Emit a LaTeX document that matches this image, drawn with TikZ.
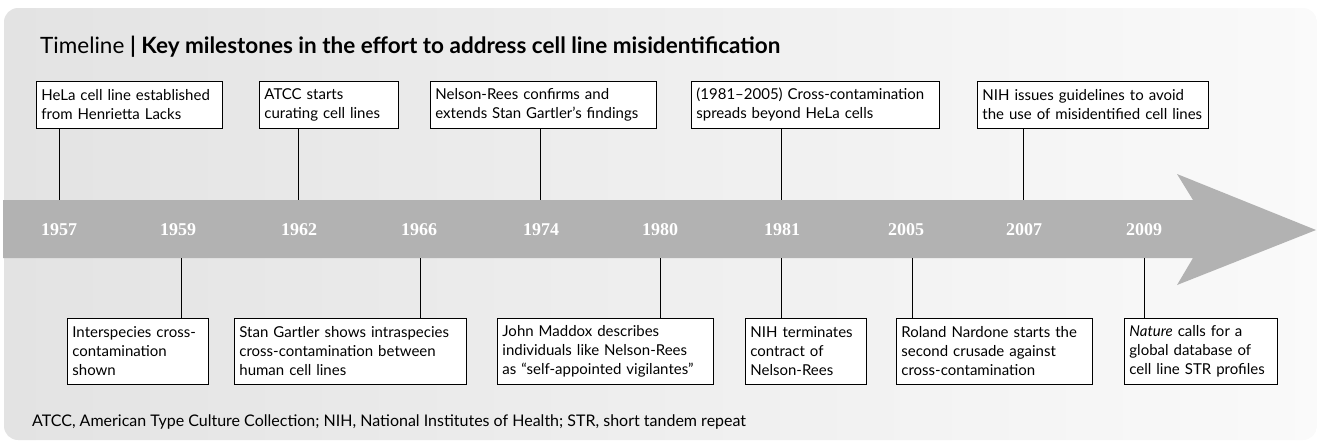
\documentclass[tikz,border=0pt]{standalone}
\usepackage{fontspec}
\setmainfont{Lato}
\newfontfamily\yearfont{Liberation Serif}
\begin{document}
\begin{tikzpicture}[x=1pt,y=-1pt,
  evbox/.style={draw=black, line width=0.8pt, fill=white, anchor=north west, align=left,
    inner xsep=5pt, inner ysep=0pt, font=\fontsize{15}{19}\selectfont},
  tick/.style={line width=0.8pt, draw=black},
  yearlbl/.style={text=white, font=\yearfont\bfseries\fontsize{18}{18}\selectfont},
  band/.style={fill=black!30, draw=none}]
\useasboundingbox (0,0) rectangle (1317,440);
% background panel
\shade[left color=black!11, right color=black!2, rounded corners=14pt] (4,8) rectangle (1317,440);
% title
\node[anchor=west, inner sep=0pt, font=\fontsize{22.5}{26}\selectfont] (title) at (40,47)
  {Timeline \textbf{| Key milestones in the effort to address cell line misidentification}};
% arrow
\path[band] (3,200) -- (1193,200) -- (1177,174) -- (1316,230) -- (1177,285) -- (1193,258) -- (3,258) -- cycle;
% year coordinates
\foreach \n/\x in {y1957/59, y1959/181, y1962/298, y1966/420, y1974/540, y1980/660, y1981/781, y2005/912, y2007/1023, y2009/1144}{
  \coordinate (\n top) at (\x,200);
  \coordinate (\n bot) at (\x,258);
}
\foreach \n/\x/\t in {l1957/59/1957, l1959/178/1959, l1962/299/1962, l1966/419/1966, l1974/541/1974, l1980/660/1980, l1981/782/1981, l2005/906/2005, l2007/1024/2007, l2009/1144/2009}{
  \node[yearlbl] (\n) at (\x,230) {\t};
}
% top boxes
\node[evbox, text width=176pt, minimum height=47pt] (hela) at (36,81)
  {HeLa cell line established\\from Henrietta Lacks};
\node[evbox, text width=129pt, minimum height=47pt] (atcc) at (259,81)
  {ATCC starts\\curating cell lines};
\node[evbox, text width=216pt, minimum height=47pt] (nrees) at (430,81)
  {Nelson-Rees confirms and\\extends Stan Gartler’s findings};
\node[evbox, text width=238pt, minimum height=47pt] (spread) at (691,81)
  {(1981–2005) Cross-contamination\\spreads beyond HeLa cells};
\node[evbox, text width=221pt, minimum height=47pt] (nihg) at (977,81)
  {NIH issues guidelines to avoid\\the use of misidentified cell lines};
% bottom boxes
\node[evbox, text width=131pt, minimum height=66pt] (inter) at (67,318)
  {Interspecies cross-\\contamination\\shown};
\node[evbox, text width=222pt, minimum height=66pt] (gart) at (234,318)
  {Stan Gartler shows intraspecies\\cross-contamination between\\human cell lines};
\node[evbox, text width=206pt, minimum height=66pt] (madd) at (497,318)
  {John Maddox describes\\individuals like Nelson-Rees\\as “self-appointed vigilantes”};
\node[evbox, text width=111pt, minimum height=66pt] (niht) at (745,318)
  {NIH terminates\\contract of\\Nelson-Rees};
\node[evbox, text width=186pt, minimum height=66pt] (nard) at (896,318)
  {Roland Nardone starts the\\second crusade against\\cross-contamination};
\node[evbox, text width=143pt, minimum height=66pt] (nat) at (1124,318)
  {\textit{Nature} calls for a\\global database of\\cell line STR profiles};
% connectors top
\draw[tick] (y1957top |- hela.south) -- (y1957top);
\draw[tick] (y1962top |- atcc.south) -- (y1962top);
\draw[tick] (y1974top |- nrees.south) -- (y1974top);
\draw[tick] (y1981top |- spread.south) -- (y1981top);
\draw[tick] (y2007top |- nihg.south) -- (y2007top);
% connectors bottom
\draw[tick] (y1959bot) -- (y1959bot |- inter.north);
\draw[tick] (y1966bot) -- (y1966bot |- gart.north);
\draw[tick] (y1980bot) -- (y1980bot |- madd.north);
\draw[tick] (y1981bot) -- (y1981bot |- niht.north);
\draw[tick] (y2005bot) -- (y2005bot |- nard.north);
\draw[tick] (y2009bot) -- (y2009bot |- nat.north);
% footnote
\node[anchor=west, inner sep=0pt, font=\fontsize{16}{19}\selectfont] (foot) at (32,422)
  {ATCC, American Type Culture Collection; NIH, National Institutes of Health; STR, short tandem repeat};
\end{tikzpicture}
\end{document}
